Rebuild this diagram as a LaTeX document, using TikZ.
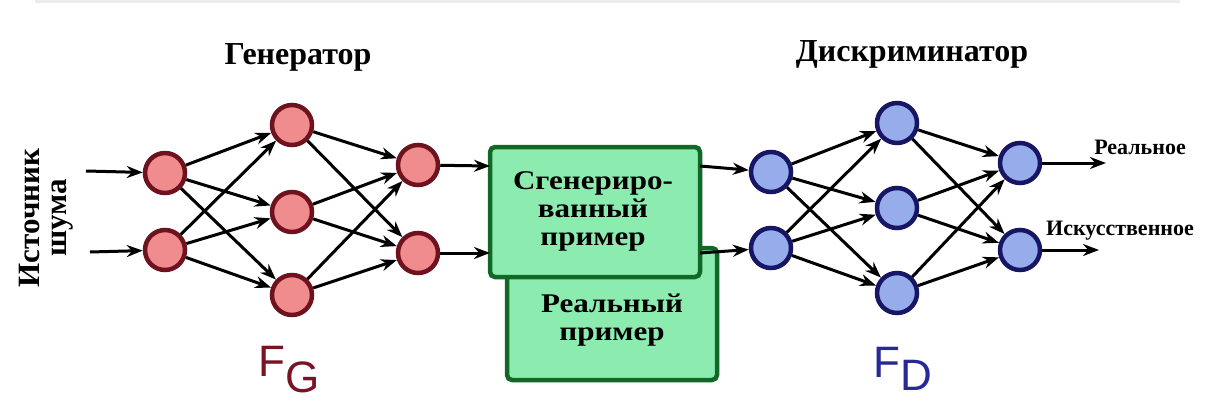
\documentclass[tikz,border=0pt]{standalone}
\usepackage{fontspec}
\setmainfont{Liberation Serif}
\newfontfamily\timesfont{Liberation Serif}
\newfontfamily\widefont{Liberation Serif}[FakeStretch=1.15]
\newfontfamily\labelsans{Liberation Sans}
\usetikzlibrary{arrows.meta}
\definecolor{genfill}{RGB}{240,140,142}
\definecolor{gendraw}{RGB}{110,18,30}
\definecolor{discfill}{RGB}{150,172,235}
\definecolor{discdraw}{RGB}{22,22,100}
\definecolor{boxfill}{RGB}{140,236,176}
\definecolor{boxdraw}{RGB}{18,104,38}
\definecolor{fgcol}{RGB}{120,20,35}
\definecolor{fdcol}{RGB}{40,40,150}
\definecolor{shadowgray}{RGB}{236,236,236}

\begin{document}
\begin{tikzpicture}[x=1pt,y=-1pt,
  neuron/.style={circle,minimum size=40pt,inner sep=0pt,line width=4.5pt},
  gen/.style={neuron,fill=genfill,draw=gendraw},
  disc/.style={neuron,fill=discfill,draw=discdraw},
  link/.style={line width=3pt,-{Stealth[length=16pt,width=12pt]}},
  sample/.style={draw=boxdraw,fill=boxfill,line width=4.5pt,rounded corners=5pt},
  boxtext/.style={font=\widefont\fontsize{27}{28}\selectfont\bfseries,align=center,inner sep=0pt},
  title/.style={font=\timesfont\fontsize{32}{36}\selectfont\bfseries,inner sep=0pt},
  outlabel/.style={font=\timesfont\fontsize{22}{24}\selectfont\bfseries,inner sep=0pt},
  fname/.style={font=\labelsans\fontsize{44}{48}\selectfont,inner sep=0pt}]

\useasboundingbox[fill=white] (0,0) rectangle (1228,412);
\draw[shadowgray,line width=3pt] (35,2) -- (1180,2);

% titles
\node[title] (tgen) at (298,57) {Генератор};
\node[title] (tdisc) at (912,54) {Дискриминатор};

% noise source label
\node[font=\timesfont\fontsize{31}{27}\selectfont\bfseries,rotate=90,align=center,inner sep=0pt]
  (noise) at (46,218) {Источник\\шума};
\coordinate (in1) at (86,171);
\coordinate (in2) at (90,252);

% generator
\node[gen] (g11) at (165,173) {};
\node[gen] (g12) at (165,250) {};
\node[gen] (g21) at (292,125) {};
\node[gen] (g22) at (292,212) {};
\node[gen] (g23) at (292,295) {};
\node[gen] (g31) at (418,165) {};
\node[gen] (g32) at (418,253) {};

% samples: real behind, generated in front
\draw[sample] (507,248) rectangle (717,380);
\node[boxtext] (treal) at (612,320) {Реальный\\пример};
\draw[sample] (490,147) rectangle (700,277);
\coordinate (boxw1) at (490,166);
\coordinate (boxw2) at (490,253);
\coordinate (boxe1) at (700,166);
\coordinate (boxe2) at (700,253);
\node[boxtext] (tgenbox) at (593,211) {Сгенериро-\\ванный\\пример};

% discriminator
\node[disc] (d11) at (771,172) {};
\node[disc] (d12) at (771,248) {};
\node[disc] (d21) at (897,123) {};
\node[disc] (d22) at (897,208) {};
\node[disc] (d23) at (897,293) {};
\node[disc] (d31) at (1020,163) {};
\node[disc] (d32) at (1020,250) {};
\coordinate (out1) at (1106,163);
\coordinate (out2) at (1099,250);

% connectors
\draw[link] (in1) -- (g11);
\draw[link] (in2) -- (g12);
\foreach \a in {g11,g12} \foreach \b in {g21,g22,g23} \draw[link] (\a) -- (\b);
\foreach \a in {g21,g22,g23} \foreach \b in {g31,g32} \draw[link] (\a) -- (\b);
\draw[link] (g31) -- (boxw1);
\draw[link] (g32) -- (boxw2);
\draw[link] (boxe1) -- (d11);
\draw[link] (boxe2) -- (d12);
\foreach \a in {d11,d12} \foreach \b in {d21,d22,d23} \draw[link] (\a) -- (\b);
\foreach \a in {d21,d22,d23} \foreach \b in {d31,d32} \draw[link] (\a) -- (\b);
\draw[link] (d31) -- (out1);
\draw[link] (d32) -- (out2);

% output labels
\node[outlabel] (lreal) at (1140,147) {Реальное};
\node[outlabel] (lfake) at (1120,231) {Искусственное};

% function names
\node[fname,text=fgcol,anchor=base west] (fg) at (258,376) {F\raisebox{-16pt}{G}};
\node[fname,text=fdcol,anchor=base west] (fd) at (873,377) {F\raisebox{-13pt}{D}};
\end{tikzpicture}
\end{document}
